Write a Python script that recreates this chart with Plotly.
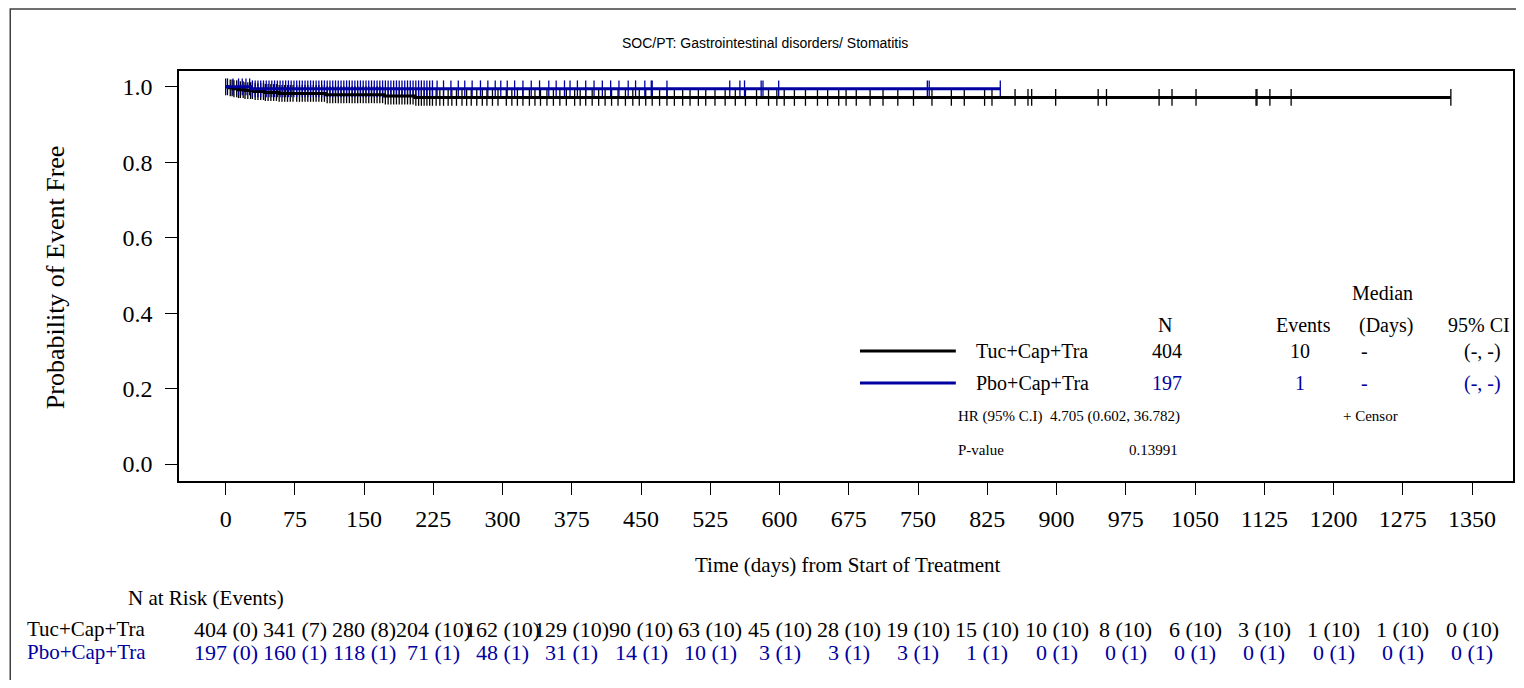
import numpy as np
import plotly.graph_objects as go

# ---- data ----
arms = ['Tuc+Cap+Tra', 'Pbo+Cap+Tra']
arm_colors = ['#000000', '#0000A0']

# Kaplan-Meier step curves (day, probability of event free)
tuc_time = [0, 3, 8, 14, 21, 30, 42, 58, 108, 172, 205, 1327]
tuc_surv = [1.0, 0.9975, 0.9950, 0.9925, 0.9900, 0.9875, 0.9850, 0.9825, 0.9790, 0.9755, 0.9720, 0.9720]
pbo_time = [0, 28, 839]
pbo_surv = [1.0, 0.9948, 0.9948]

# censored observations (days)
tuc_censor = [2, 5, 7, 9, 12, 14, 16, 19, 21, 24, 27, 29, 32, 35, 38, 41, 43, 46, 49, 52, 55, 58, 61, 64,
              67, 70, 73, 77, 80, 83, 86, 89, 92, 95, 98, 101, 104, 107, 110, 113, 116, 119, 122, 125,
              128, 131, 134, 137, 140, 143, 146, 149, 152, 155, 158, 161, 164, 167, 170, 173, 176, 179,
              182, 185, 188, 191, 194, 197, 200, 203, 206, 209, 212, 215, 218, 221, 224, 228, 232, 236,
              241, 245, 250, 256, 261, 266, 272, 278, 283, 289, 295, 304, 310, 316, 322, 329, 335, 341,
              348, 355, 362, 369, 378, 384, 390, 397, 404, 411, 418, 425, 433, 441, 448, 455, 462, 470,
              478, 486, 495, 503, 512, 520, 530, 541, 552, 563, 575, 588, 597, 605, 616, 628, 641, 652,
              664, 672, 683, 698, 712, 728, 745, 765, 786, 800, 822, 830, 855, 869, 873, 899, 945, 954,
              1011, 1025, 1051, 1116, 1117, 1131, 1154, 1327]
pbo_censor = [0, 8, 14, 18, 22, 26, 29, 32, 35, 38, 41, 44, 47, 50, 53, 56, 59, 62, 65, 68, 71, 74, 77, 80,
              83, 86, 89, 92, 95, 98, 101, 104, 107, 110, 113, 116, 119, 122, 125, 128, 131, 134, 137,
              140, 143, 146, 149, 152, 155, 158, 161, 164, 167, 170, 173, 176, 179, 182, 185, 188, 191,
              194, 197, 200, 203, 206, 209, 212, 215, 218, 221, 224, 229, 236, 244, 252, 259, 267, 276,
              284, 292, 298, 305, 313, 322, 331, 340, 350, 358, 367, 373, 381, 390, 399, 408, 417, 426,
              436, 444, 454, 461, 462, 478, 546, 557, 562, 580, 582, 599, 760, 762, 839]

# legend / statistics table
stat_n = ['404', '197']
stat_events = ['10', '1']
stat_median = ['-', '-']
stat_ci = ['(-, -)', '(-, -)']
hr_text = '4.705 (0.602, 36.782)'
p_text = '0.13991'

# number at risk table
risk_days = list(range(0, 1351, 75))
tuc_risk = ['404 (0)', '341 (7)', '280 (8)', '204 (10)', '162 (10)', '129 (10)', '90 (10)', '63 (10)',
            '45 (10)', '28 (10)', '19 (10)', '15 (10)', '10 (10)', '8 (10)', '6 (10)', '3 (10)',
            '1 (10)', '1 (10)', '0 (10)']
pbo_risk = ['197 (0)', '160 (1)', '118 (1)', '71 (1)', '48 (1)', '31 (1)', '14 (1)', '10 (1)', '3 (1)',
            '3 (1)', '3 (1)', '1 (1)', '0 (1)', '0 (1)', '0 (1)', '0 (1)', '0 (1)', '0 (1)', '0 (1)']

# ---- layout helpers (screen pixel -> paper); page body has an 8px margin on each side ----
OFF = 8
W, H = 1524 - 2 * OFF, 688 - 2 * OFF
L, R, T, B = 179, 1515, 71, 481


def xp(px):
    return (px - L) / (R - L)


def yp(py):
    return (B - py) / (B - T)


SERIF = 'Liberation Serif, Times New Roman, serif'
SANS = 'Liberation Sans, Arial, sans-serif'


def step_value(times, surv, t):
    i = np.searchsorted(times, t, side='right') - 1
    return np.asarray(surv)[i]


fig = go.Figure()

curves = [(tuc_time, tuc_surv, tuc_censor), (pbo_time, pbo_surv, pbo_censor)]
for (tt, ss, cc), name, col in zip(curves, arms, arm_colors):
    fig.add_trace(go.Scatter(
        x=cc, y=step_value(tt, ss, cc), mode='markers', name=name + ' censor',
        marker=dict(symbol='line-ns', size=12, line=dict(width=1.3, color=col), color=col),
        showlegend=False, hoverinfo='skip'))
for (tt, ss, cc), name, col in zip(curves, arms, arm_colors):
    fig.add_trace(go.Scatter(
        x=tt, y=ss, mode='lines', name=name, line=dict(color=col, width=3, shape='hv'),
        showlegend=False))

fig.update_layout(
    width=W, height=H,
    margin=dict(l=L - OFF, r=W - (R - OFF), t=T - OFF, b=H - (B - OFF)),
    paper_bgcolor='white', plot_bgcolor='white',
    font=dict(family=SERIF, size=22, color='black'),
    xaxis=dict(range=[-50.5, 1394.3], tickmode='array', tickvals=risk_days,
               showline=True, mirror=True, linecolor='black', linewidth=1.5,
               ticks='outside', ticklen=12, tickcolor='black', tickwidth=1,
               showgrid=False, zeroline=False, ticklabelstandoff=3,
               tickfont=dict(family=SERIF, size=24)),
    yaxis=dict(range=[-0.045, 1.042], tickmode='array', tickvals=[0, 0.2, 0.4, 0.6, 0.8, 1.0],
               tickformat='.1f',
               showline=True, mirror=True, linecolor='black', linewidth=1.5,
               ticks='outside', ticklen=12, tickcolor='black', tickwidth=1,
               showgrid=False, zeroline=False, ticklabelstandoff=8,
               tickfont=dict(family=SERIF, size=24)),
)

ann = []


def text(x, y, s, size=20, color='black', anchor='center', family=SERIF, xref='paper', angle=0):
    ann.append(dict(x=x, y=y, xref=xref, yref='paper', text=s, showarrow=False,
                    xanchor=anchor, yanchor='middle', textangle=angle,
                    font=dict(family=family, size=size, color=color)))


# titles
text(xp(766), yp(43), 'SOC/PT: Gastrointestinal disorders/ Stomatitis', size=14, family=SANS)
text(xp(849), yp(565), 'Time (days) from Start of Treatment', size=21)
text(xp(55), yp(277), 'Probability of Event Free', size=26, angle=-90)

# statistics legend
text(xp(1384), yp(293), 'Median')
for s, cx in zip(['N', 'Events', '(Days)', '95% CI'], [1166, 1305, 1388, 1481]):
    text(xp(cx), yp(325), s)
shapes = []
for i, (name, col, py) in enumerate(zip(arms, arm_colors, [351, 383])):
    shapes.append(dict(type='line', xref='paper', yref='paper', x0=xp(861), x1=xp(957),
                       y0=yp(py), y1=yp(py), line=dict(color=col, width=3)))
    text(xp(975), yp(py), name, color='black', anchor='left')
    text(xp(1168), yp(py), stat_n[i], color=col)
    text(xp(1302), yp(py), stat_events[i], color=col)
    text(xp(1366), yp(py), stat_median[i], color=col)
    text(xp(1484), yp(py), stat_ci[i], color=col)
text(xp(957), yp(416), 'HR (95% C.I)', size=15, anchor='left')
text(xp(1049), yp(416), hr_text, size=15, anchor='left')
text(xp(1343), yp(416), '+ Censor', size=15, anchor='left')
text(xp(957), yp(450), 'P-value', size=15, anchor='left')
text(xp(1128), yp(450), p_text, size=15, anchor='left')

# number at risk table
text(xp(126), yp(598), 'N at Risk (Events)', size=21, anchor='left')
for name, col, py, vals in zip(arms, arm_colors, [629, 652], [tuc_risk, pbo_risk]):
    text(xp(25), yp(py), name, size=21, color=col, anchor='left')
    for d, v in zip(risk_days, vals):
        text(d, yp(py), v, size=22, color=col, xref='x')

# outer frame: top edge at the page top, right and bottom edges run off the page
shapes.append(dict(type='rect', xref='paper', yref='paper', x0=xp(10), x1=xp(1540),
                   y0=yp(700), y1=yp(OFF + 1), line=dict(color='#404040', width=1.5)))

fig.update_layout(annotations=ann, shapes=shapes)
fig.write_html('out.html')
